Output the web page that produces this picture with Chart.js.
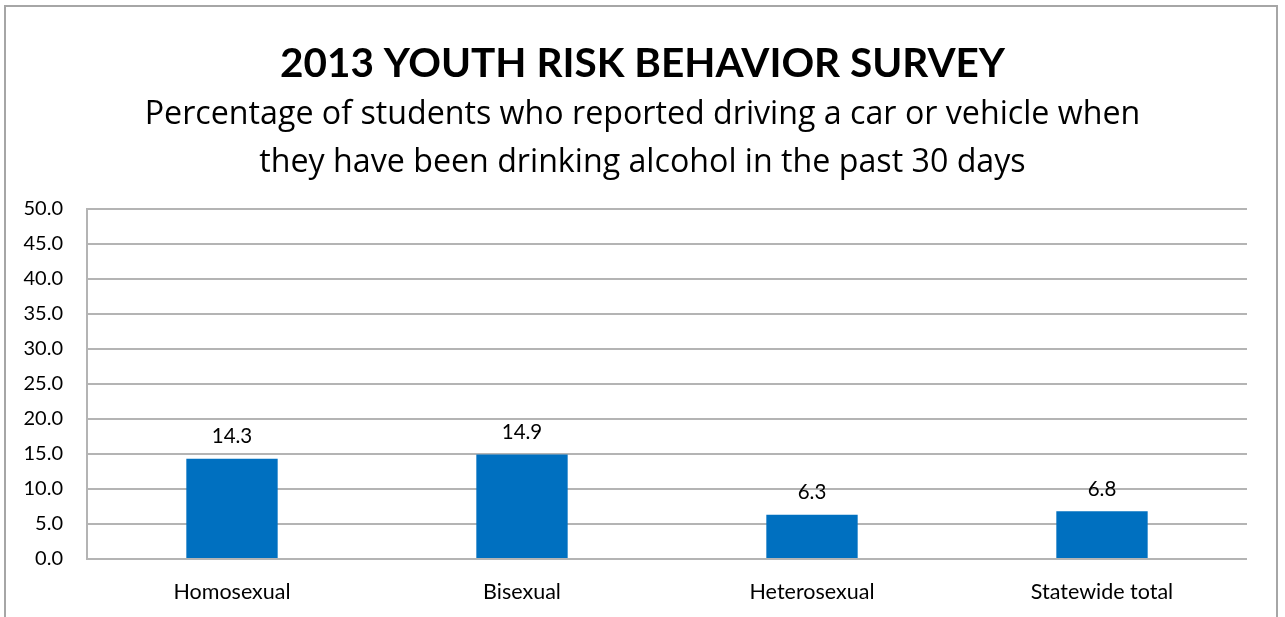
<!DOCTYPE html>
<html lang="en">
  <head>
    <meta charset="UTF-8" />
    <title>2013 Youth Risk Behavior Survey</title>
    <script src="https://cdn.jsdelivr.net/npm/chart.js@4.4.1/dist/chart.umd.min.js"></script>
    <style>
      html, body { margin: 0; padding: 0; background: #fff; }
      #wrap { position: relative; width: 1285px; height: 617px; }
    </style>
  </head>
  <body>
    <div id="wrap">
      <canvas id="chart" width="1285" height="617"></canvas>
    </div>
  <script>
    const categories = ["Homosexual", "Bisexual", "Heterosexual", "Statewide total"];
    const percentages = [14.3, 14.9, 6.3, 6.8];
    const yTicks = [0, 5, 10, 15, 20, 25, 30, 35, 40, 45, 50];

    const titleText = "2013 YOUTH RISK BEHAVIOR SURVEY";
    const subtitleLines = [
      "Percentage of students who reported driving a car or vehicle when",
      "they have been drinking alcohol in the past 30 days",
    ];

    const FONT = "Lato, 'Open Sans', sans-serif";
    const SUB_FONT = "'Open Sans', Lato, sans-serif";
    const gridColor = "#b4b4b4";

    // frame around the whole chart (bottom edge falls off the picture)
    const framePlugin = {
      id: "frame",
      beforeDraw(chart) {
        const ctx = chart.ctx;
        ctx.save();
        ctx.fillStyle = "#fff";
        ctx.fillRect(0, 0, chart.width, chart.height);
        ctx.strokeStyle = "#a6a6a6";
        ctx.lineWidth = 2;
        ctx.strokeRect(5, 6, 1272, 700);
        ctx.restore();
      },
    };

    // value labels above each bar
    const valueLabels = {
      id: "valueLabels",
      afterDatasetsDraw(chart) {
        const ctx = chart.ctx;
        const meta = chart.getDatasetMeta(0);
        ctx.save();
        ctx.font = "20.5px " + FONT;
        ctx.fillStyle = "#000";
        ctx.textAlign = "center";
        ctx.textBaseline = "middle";
        meta.data.forEach((bar, i) => {
          ctx.fillText(percentages[i].toFixed(1), bar.x, bar.y - 22);
        });
        ctx.restore();
      },
    };

    new Chart(document.getElementById("chart").getContext("2d"), {
      type: "bar",
      data: {
        labels: categories,
        datasets: [
          {
            data: percentages,
            backgroundColor: "#0070C0",
            borderWidth: 0,
            categoryPercentage: 1,
            barPercentage: 0.315,
          },
        ],
      },
      options: {
        responsive: false,
        animation: false,
        layout: { padding: 0 },
        plugins: {
          legend: { display: false },
          tooltip: { enabled: false },
          title: {
            display: true,
            text: titleText,
            color: "#000",
            font: { family: FONT, size: 40.5, weight: "bold", lineHeight: 1.2 },
            padding: { top: 40, bottom: 2 },
          },
          subtitle: {
            display: true,
            text: subtitleLines,
            color: "#000",
            font: { family: SUB_FONT, size: 32.2, lineHeight: 1.49 },
            padding: { top: 0, bottom: 22 },
          },
        },
        scales: {
          x: {
            grid: { display: false, drawTicks: false },
            border: { display: false },
            ticks: {
              color: "#000",
              padding: 20,
              font: { family: FONT, size: 21.5 },
            },
            afterFit(scale) { scale.height = 58; },
          },
          y: {
            min: 0,
            max: 50,
            afterBuildTicks(scale) {
              scale.ticks = yTicks.map((v) => ({ value: v }));
            },
            grid: { color: gridColor, lineWidth: 2, drawTicks: false },
            border: { display: true, color: gridColor, width: 2 },
            ticks: {
              color: "#000",
              padding: 24,
              font: { family: FONT, size: 20 },
              callback: (v) => Number(v).toFixed(1),
            },
            afterFit(scale) { scale.width = 87; },
          },
          // empty right-hand spacer so the titles stay centred on the frame
          spacer: {
            type: "linear",
            position: "right",
            min: 0,
            max: 50,
            grid: { display: false, drawTicks: false },
            border: { display: false },
            ticks: { display: false },
            afterFit(scale) { scale.width = 38; },
          },
        },
      },
      plugins: [framePlugin, valueLabels],
    });
  </script>
  </body>
</html>
